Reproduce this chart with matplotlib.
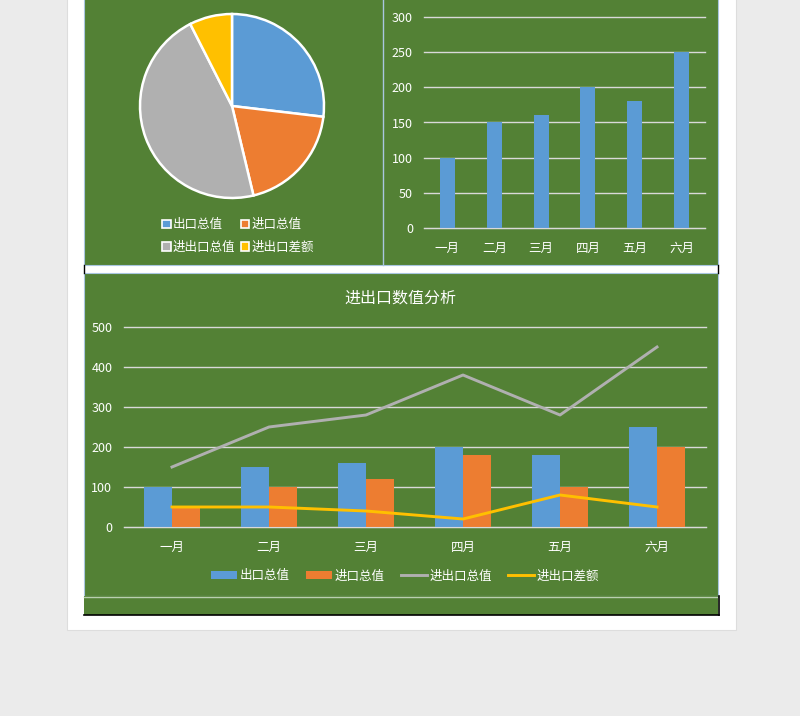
import matplotlib
matplotlib.use('Agg')
import matplotlib.pyplot as plt
from matplotlib.patches import Rectangle, Patch
from matplotlib.lines import Line2D

plt.rcParams['font.family'] = ['Noto Sans CJK SC', 'DejaVu Sans']

# 数据
months = ['一月', '二月', '三月', '四月', '五月', '六月']
export_val = [100, 150, 160, 200, 180, 250]      # 出口总值
import_val = [50, 100, 120, 180, 100, 200]       # 进口总值
total_val = [150, 250, 280, 380, 280, 450]       # 进出口总值
diff_val = [50, 50, 40, 20, 80, 50]              # 进出口差额
series_names = ['出口总值', '进口总值', '进出口总值', '进出口差额']

GREEN = '#538135'
BLUE = '#5b9bd5'
ORANGE = '#ed7d31'
GRAY = '#b0b0b0'
YELLOW = '#ffc000'
GRID = '#d9d9d9'

W, H = 800, 716
fig = plt.figure(figsize=(W / 100, H / 100), dpi=100)
fig.patch.set_facecolor('#ebebeb')


def box(x0, y0, x1, y1):
    # 像素坐标 -> figure 坐标
    return [x0 / W, 1 - y1 / H, (x1 - x0) / W, (y1 - y0) / H]


def rect(x0, y0, x1, y1, **kw):
    b = box(x0, y0, x1, y1)
    fig.patches.append(Rectangle((b[0], b[1]), b[2], b[3], transform=fig.transFigure,
                                 zorder=-10, **kw))


def vline(x, y0, y1, **kw):
    fig.add_artist(Line2D([x / W, x / W], [1 - y0 / H, 1 - y1 / H],
                          transform=fig.transFigure, zorder=-5, **kw))


def hline(y, x0, x1, **kw):
    fig.add_artist(Line2D([x0 / W, x1 / W], [1 - y / H, 1 - y / H],
                          transform=fig.transFigure, zorder=-5, **kw))


# 页面和面板
rect(67, -2, 736, 630, facecolor='white', edgecolor='#dddddd', lw=0.8)
rect(84, -2, 718, 265, facecolor=GREEN, edgecolor='#a9c6e0', lw=0.8)
vline(382.5, 0, 265, color='#a9c6e0', lw=1)
rect(84, 273, 718, 596, facecolor=GREEN, edgecolor='#a9c6e0', lw=0.8)
rect(84, 596, 718, 615, facecolor=GREEN, edgecolor='none')
hline(596.5, 84, 718, color='#b9cfb0', lw=1)
hline(615, 84, 719, color='black', lw=1.2)
vline(718.5, 596, 615, color='black', lw=1.2)
vline(84, 265, 273, color='black', lw=1)
vline(718, 265, 273, color='black', lw=1)

# 饼图：各系列合计
pie_vals = [sum(export_val), sum(import_val), sum(total_val), sum(diff_val)]
pie_colors = [BLUE, ORANGE, GRAY, YELLOW]
ax_pie = fig.add_axes(box(132, 6, 332, 206))
ax_pie.pie(pie_vals, colors=pie_colors, startangle=90, counterclock=False,
           wedgeprops=dict(edgecolor='white', linewidth=1.8))
ax_pie.set_xlim(-1.087, 1.087)
ax_pie.set_ylim(-1.087, 1.087)
ax_pie.set_aspect('equal')
ax_pie.axis('off')

order = [0, 2, 1, 3]
pie_handles = [Patch(facecolor=pie_colors[i], edgecolor='white', lw=1.2) for i in order]
fig.legend(pie_handles, [series_names[i] for i in order], ncol=2,
           loc='center', bbox_to_anchor=(238 / W, 1 - 236 / H),
           frameon=False, fontsize=9, labelcolor='white',
           handlelength=0.7, handleheight=0.7, handletextpad=0.2,
           columnspacing=0.4, labelspacing=0.75)


def style_axes(ax, ypad):
    ax.set_facecolor('none')
    for s in ['top', 'right', 'left']:
        ax.spines[s].set_visible(False)
    ax.spines['bottom'].set_color(GRID)
    ax.tick_params(axis='both', length=0, colors='white', labelsize=9)
    ax.tick_params(axis='y', pad=ypad)
    ax.tick_params(axis='x', pad=10)
    ax.yaxis.grid(True, color=GRID, lw=1)
    ax.set_axisbelow(True)
    for gl in ax.get_ygridlines():
        gl.set_clip_on(False)


# 右上柱形图
x = list(range(len(months)))
ax_bar = fig.add_axes(box(424, 17, 705, 228))
ax_bar.bar(x, export_val, width=0.32, color=BLUE)
ax_bar.set_xlim(-0.5, 5.5)
ax_bar.set_ylim(0, 300)
ax_bar.set_yticks(range(0, 301, 50))
ax_bar.set_xticks(x)
ax_bar.set_xticklabels(months)
style_axes(ax_bar, 8)

# 下方组合图
ax = fig.add_axes(box(123.5, 327, 705.5, 527))
bw = 0.29
ax.bar([i - bw / 2 for i in x], export_val, width=bw, color=BLUE, label=series_names[0])
ax.bar([i + bw / 2 for i in x], import_val, width=bw, color=ORANGE, label=series_names[1])
ax.plot(x, total_val, color=GRAY, lw=2.1, label=series_names[2])
ax.plot(x, diff_val, color=YELLOW, lw=2.1, label=series_names[3])
ax.set_xlim(-0.5, 5.5)
ax.set_ylim(0, 500)
ax.set_yticks(range(0, 501, 100))
ax.set_xticks(x)
ax.set_xticklabels(months)
style_axes(ax, 8)

fig.text(400 / W, 1 - 298 / H, '进出口数值分析', color='white', fontsize=11.5,
         ha='center', va='center')

handles = [Patch(facecolor=BLUE), Patch(facecolor=ORANGE),
           Line2D([], [], color=GRAY, lw=2.1), Line2D([], [], color=YELLOW, lw=2.1)]
fig.legend(handles, series_names, ncol=4, loc='center',
           bbox_to_anchor=(405 / W, 1 - 576 / H), frameon=False, fontsize=9,
           labelcolor='white', handlelength=2.1, handleheight=0.6,
           handletextpad=0.2, columnspacing=1.3)

fig.savefig('out.png', dpi=100, facecolor=fig.get_facecolor())
